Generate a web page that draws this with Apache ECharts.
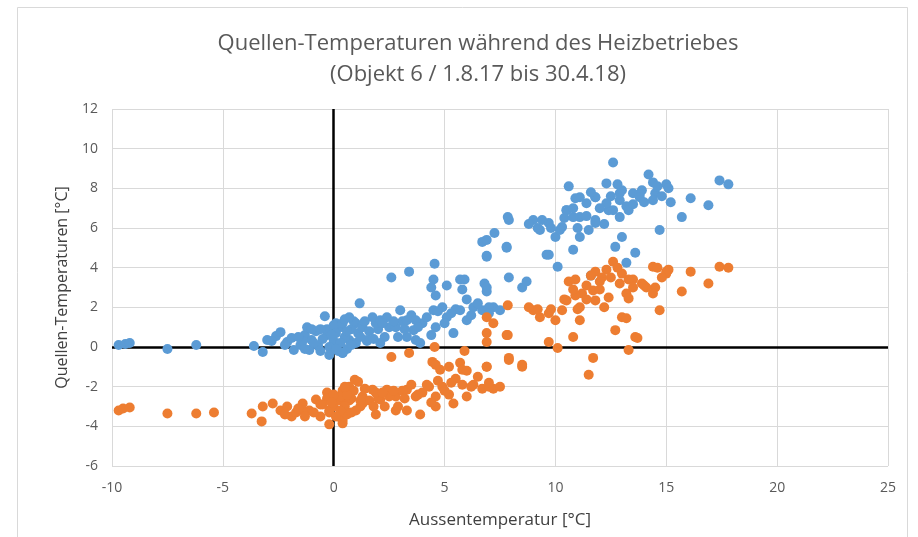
<!DOCTYPE html>
<html>
<head>
<meta charset="utf-8">
<script src="https://cdn.jsdelivr.net/npm/echarts@6/dist/echarts.min.js"></script>
<style>
  html, body { margin: 0; padding: 0; background: #fff; }
  #main { width: 918px; height: 537px; }
</style>
</head>
<body>
<div id="main"></div>
<script>
const blueX = [-9.7, -9.4, -9.2, -7.5, -6.2, -3.6, -3.2, -3.0, -2.6, -2.4, -2.1, -1.9, -1.8, -1.5, -1.3, -1.2, -1.0, -0.8, -0.6, -0.4, -0.7, -1.1,
  -2.8, -1.0, -0.3, 0.1, 0.4, 0.7, 1.0, 1.1, 1.5, 0.0, 0.2, -0.3, 0.5, 0.8, 1.0, 1.3, 0.6, -0.5, -0.2, 0.9, 1.6, 2.0, 2.5, 2.3, 2.9, 3.1, 3.5, 4.0, 0.3, 0.0, -0.9, -1.4, -0.2, 1.9,
  1.17, 2.6, 3.4, 4.55, 4.5, 4.4, 5.1, 5.7, 5.8, 6.8, 6.9, 6.7, 6.9, 7.25, 7.8, 7.9, 8.5, 8.7, 7.9,
  0.7, 0.4, 0.1, 1.75, 2.1, 2.4, 3.0, 2.8, 3.3, 3.7, 3.6, 3.9, 4.5, 4.6, 4.9, 5.1, 5.4, 5.7, 6.0, 6.3, 6.7, 7.2, 7.5, 2.1, 0.4, 1.5, 3.3, 3.7,
  12.6, 10.6, 12.3, 14.2, 15.0, 15.2, 7.85, 9.0, 9.3, 9.7, 10.0, 10.3, 10.5, 11.1, 11.4, 11.8, 11.8, 11.1, 10.8, 12.4, 12.9, 13.2, 13.5, 13.9, 14.5, 14.7,
  13.0, 12.7, 13.6, 13.2, 9.6, 10.1, 6.9, 6.9, 7.8, 6.9, 7.0, 11.6, 14.4, 15.1, 17.4, 17.8, 16.1, 16.9, 15.7, 13.3, 13.8,
  11.1, 11.8, 12.9, 13.8, 14.4, 12.6, 12.3, 12.9, 10.5, 10.8, 9.4, 10.2, 11.5, 11.8, 9.7,
  -0.1, 0.3, 0.6, 1.2, 1.4, 0.8, -0.6, -1.6, -2.2, -1.3, 0.1, 0.5, 1.8, 2.2, 2.7, 3.2, 3.8, 4.2, 4.4, 5.0, 5.5, 6.2, 6.5, 5.3, 4.7, 6.0, 5.9, 4.6, 7.0,
  10.8, 11.4, 12.0, 12.5, 13.0, 14.0, 14.8, 11.0, 10.4, 9.8, 12.2, 13.5, 14.6, 9.2, 8.8, 10.9, 12.8, 11.6];
const blueY = [0.1, 0.15, 0.2, -0.1, 0.1, 0.05, -0.25, 0.35, 0.55, 0.75, 0.25, 0.45, -0.15, 0.1, 0.6, 1.0, 0.35, 0.8, -0.2, 1.55, 0.05, -0.15,
  0.3, 0.9, 0.6, 1.2, -0.3, 0.35, 1.2, 0.7, 0.3, 0.3, -0.2, 0.9, 0.5, 0.9, 0.2, 1.0, -0.1, 0.4, 0.0, 1.3, 0.8, 0.9, 1.0, 0.5, 0.5, 1.3, 1.6, 1.2, 1.0, 1.1, 0.2, 0.3, -0.4, 1.2,
  2.2, 3.5, 3.8, 4.2, 3.4, 3.0, 3.1, 3.4, 2.9, 3.2, 2.8, 5.3, 4.6, 5.75, 5.0, 3.5, 3.0, 3.3, 6.4,
  1.5, 1.2, 0.7, 1.5, 1.35, 1.5, 1.85, 1.0, 1.35, 1.35, 0.85, 0.2, 1.85, 1.0, 2.0, 1.5, 0.7, 1.85, 1.35, 2.0, 1.85, 2.0, 1.85, 0.2, -0.3, 0.35, 0.5, 0.35,
  9.3, 8.1, 8.25, 8.7, 8.2, 7.3, 6.55, 6.4, 5.9, 6.25, 5.55, 6.05, 6.9, 6.55, 7.25, 7.55, 6.4, 5.55, 4.9, 6.9, 7.4, 7.1, 7.75, 7.9, 7.75, 5.9,
  5.55, 5.05, 4.75, 4.25, 4.65, 4.05, 5.4, 4.55, 5.05, 3.0, 2.0, 3.6, 8.3, 8.0, 8.4, 8.2, 7.5, 7.15, 6.55, 6.9, 7.7,
  7.55, 7.55, 7.75, 7.55, 7.4, 6.9, 7.25, 6.55, 6.9, 6.55, 6.4, 5.9, 5.9, 6.25, 4.65,
  0.6, 0.2, 0.8, 0.5, 1.3, 0.1, 0.9, 0.5, 0.1, -0.1, -0.1, 1.4, 0.4, 1.2, 1.3, 0.9, 1.0, 1.5, 0.6, 1.2, 1.9, 1.6, 2.2, 1.7, 1.8, 2.4, 3.4, 2.6, 1.7,
  7.0, 6.6, 7.0, 7.6, 7.9, 7.3, 7.6, 6.0, 6.5, 6.0, 6.2, 7.2, 8.1, 6.0, 6.2, 7.5, 8.2, 7.8];

const orangeX = [-9.7, -9.5, -9.2, -7.5, -6.2, -5.4, -3.7, -3.25, -3.2, -2.75, -2.4, -2.1, -1.9, -1.7, -1.4, -1.1, -0.8, -0.6, -0.3, -0.2, 0.4, 0.3, 0.7, 0.95,
  2.6, 3.4, 4.55, 4.45, 4.8, 5.2, 5.7, 5.8, 6.9, 6.9, 7.8, 7.9, 8.5,
  1.1, 0.4, 0.1, 1.75, 2.1, 2.4, 2.8, 3.3, 3.7, 3.9, 1.9, 0.4, 4.3, 4.6, 4.6, 4.9, 5.2, 5.4, 5.8, 6.0, 6.3, 6.7, 7.2, 7.5, 1.3, 2.8, 3.3, 0.7, 1.2,
  0.0, 0.2, -0.3, 0.5, 0.8, 1.0, 1.3, 0.6, -0.5, -0.2, 0.9, 1.6, 2.0, 2.5, 2.3, 2.9, 3.1, 3.5, 4.0, 0.3, 0.0, -0.9, -1.4, -0.2, 1.9,
  12.6, 10.6, 11.8, 12.3, 14.4, 15.0, 7.85, 9.0, 9.3, 9.7, 10.0, 10.3, 10.5, 11.1, 11.2, 11.7, 11.8, 11.1, 10.8, 12.4, 12.9, 13.2, 13.5, 13.9, 14.5, 14.7,
  13.0, 12.7, 13.6, 13.3, 9.7, 10.1, 11.7, 11.5, 6.9, 7.2, 6.9, 7.85, 7.9, 8.5, 6.9, 7.0,
  15.1, 16.1, 16.9, 17.4, 17.8, 15.7, 13.2, 13.7, 15.0, 13.3, 14.1, 14.4, 13.3, 12.1, 11.4, 10.9, 12.0,
  -0.1, 0.3, 0.6, 1.2, 1.4, 0.8, -0.6, -1.6, -2.2, -1.3, 0.1, 0.5, 1.8, 2.2, 2.7, 3.2, 3.8, 4.2, 4.4, 5.0, 5.5, 6.2, 6.5, 5.3, 4.7, 6.0, 5.9, 4.6, 7.0,
  10.8, 11.4, 12.0, 12.5, 13.0, 14.0, 14.8, 11.0, 10.4, 9.8, 12.2, 13.5, 14.6, 9.2, 8.8, 10.9, 12.8, 11.6];
const orangeY = [-3.2, -3.1, -3.05, -3.35, -3.35, -3.3, -3.35, -3.75, -3.0, -2.85, -3.2, -3.0, -3.5, -3.3, -2.85, -3.2, -2.65, -3.5, -2.3, -3.2, -3.85, -2.7, -2.0, -1.65,
  -0.5, -0.3, 0.0, -0.75, -1.15, -1.0, -0.8, -1.15, -1.0, 0.25, 0.6, -0.65, -1.0,
  -1.75, -2.2, -2.7, -2.15, -2.65, -2.15, -2.5, -2.15, -2.5, -3.4, -3.4, -3.7, -2.0, -2.5, -3.0, -2.0, -2.4, -2.85, -1.9, -2.5, -1.9, -2.1, -2.1, -2.0, -2.85, -3.2, -3.2, -2.7, -3.0,
  -3.0, -3.5, -2.6, -3.0, -2.6, -3.2, -2.5, -3.4, -2.9, -3.3, -2.2, -2.7, -2.6, -2.5, -3.0, -3.0, -2.2, -1.9, -2.3, -2.5, -2.4, -3.3, -3.2, -3.9, -2.3,
  4.3, 3.3, 3.8, 3.9, 4.05, 3.8, 2.1, 1.85, 1.5, 1.7, 1.35, 1.85, 2.35, 2.0, 2.7, 2.85, 2.35, 1.35, 0.5, 2.5, 3.2, 2.7, 3.4, 3.2, 3.0, 1.85,
  1.5, 0.85, 0.5, -0.15, 0.25, -0.05, -0.55, -1.4, 1.5, 1.2, 0.7, 0.6, -0.55, -0.9, -1.0, -2.0,
  3.9, 3.8, 3.2, 4.05, 4.0, 2.8, 1.45, 0.45, 3.7, 3.4, 3.0, 2.7, 2.45, 3.5, 3.1, 2.6, 3.3,
  -2.8, -3.2, -2.4, -2.7, -2.1, -3.3, -2.9, -3.1, -3.4, -3.5, -3.5, -2.0, -3.0, -2.3, -2.2, -2.6, -2.4, -1.9, -2.8, -2.2, -1.6, -2.0, -1.5, -1.8, -1.7, -1.2, -0.2, -0.9, -1.8,
  2.9, 2.4, 2.9, 3.5, 3.7, 3.1, 3.5, 1.9, 2.4, 1.9, 2.0, 3.0, 4.0, 1.9, 2.0, 3.4, 4.0, 3.6];

const xTicks = { min: -10, max: 25, interval: 5 };
const yTicks = { min: -6, max: 12, interval: 2 };

const pairs = (xs, ys) => xs.map((x, i) => [x, ys[i]]);

const font = '"Open Sans", Lato, sans-serif';
const txt = '#595959';

const chart = echarts.init(document.getElementById('main'), null, { renderer: 'canvas' });

const option = {
  backgroundColor: '#fff',
  animation: false,
  textStyle: { fontFamily: font },
  title: {
    text: 'Quellen-Temperaturen während des Heizbetriebes\n(Objekt 6 / 1.8.17 bis 30.4.18)',
    left: 473,
    top: 23,
    textAlign: 'center',
    textStyle: {
      fontFamily: font,
      fontWeight: 'normal',
      fontSize: 22,
      lineHeight: 31,
      color: txt
    }
  },
  graphic: [
    {
      type: 'rect',
      shape: { x: 17.5, y: 7.5, width: 890, height: 540 },
      style: { fill: 'none', stroke: '#d9d9d9', lineWidth: 1 },
      silent: true
    }
  ],
  grid: {
    left: 112,
    right: 30,
    top: 109,
    bottom: 71
  },
  xAxis: {
    type: 'value',
    min: xTicks.min,
    max: xTicks.max,
    interval: xTicks.interval,
    name: 'Aussentemperatur [°C]',
    nameLocation: 'middle',
    nameGap: 46,
    nameTextStyle: { color: '#404040', fontSize: 17, fontFamily: font },
    axisLine: { show: false },
    axisTick: { show: false },
    axisLabel: { color: txt, fontSize: 14, margin: 15, fontFamily: font },
    splitLine: { lineStyle: { color: '#d9d9d9', width: 1 } }
  },
  yAxis: {
    type: 'value',
    min: yTicks.min,
    max: yTicks.max,
    interval: yTicks.interval,
    name: 'Quellen-Temperaturen [°C]',
    nameLocation: 'middle',
    nameGap: 42,
    nameTextStyle: { color: '#404040', fontSize: 16, fontFamily: font },
    axisLine: { show: false },
    axisTick: { show: false },
    axisLabel: { color: txt, fontSize: 14, margin: 14, fontFamily: font },
    splitLine: { lineStyle: { color: '#d9d9d9', width: 1 } }
  },
  series: [
    {
      name: 'Quelle 1',
      type: 'scatter',
      symbolSize: 10,
      itemStyle: { color: '#5b9bd5', opacity: 1 },
      data: pairs(blueX, blueY),
      z: 3
    },
    {
      name: 'Quelle 2',
      type: 'scatter',
      symbolSize: 10,
      itemStyle: { color: '#ed7d31', opacity: 1 },
      data: pairs(orangeX, orangeY),
      z: 3,
      // Nulllinien
      markLine: {
        silent: true,
        symbol: 'none',
        label: { show: false },
        lineStyle: { color: '#000', width: 2.5, type: 'solid' },
        data: [{ xAxis: 0 }, { yAxis: 0 }],
        z: 2
      }
    }
  ]
};

chart.setOption(option);
</script>
</body>
</html>
